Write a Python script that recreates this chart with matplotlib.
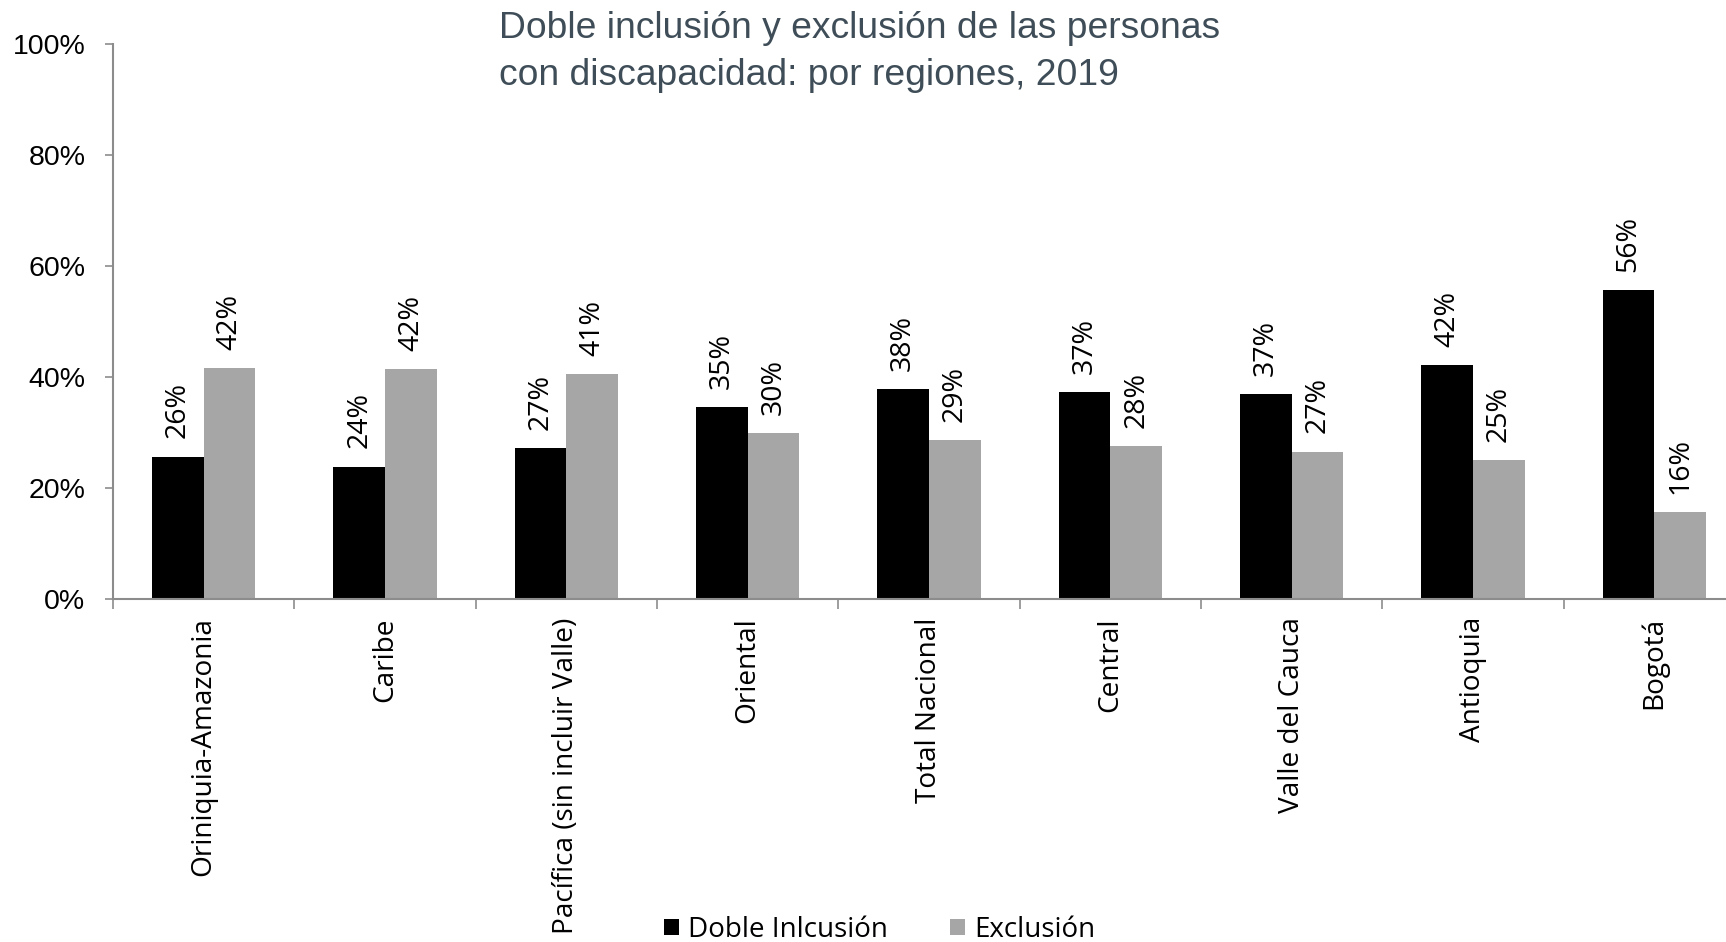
import matplotlib
matplotlib.use("Agg")
import matplotlib.pyplot as plt
import numpy as np
from matplotlib.ticker import FixedLocator, PercentFormatter

categories = ["Oriniquia-Amazonia", "Caribe", "Pacífica (sin incluir Valle)", "Oriental",
              "Total Nacional", "Central", "Valle del Cauca", "Antioquia", "Bogotá"]
doble_inclusion = [25.7, 23.9, 27.3, 34.6, 37.8, 37.4, 36.9, 42.2, 55.7]
exclusion = [41.6, 41.5, 40.6, 30.0, 28.7, 27.6, 26.6, 25.1, 15.7]
yticks = [0, 20, 40, 60, 80, 100]
title = "Doble inclusión y exclusión de las personas\ncon discapacidad: por regiones, 2019"
legend_labels = ["Doble Inlcusión", "Exclusión"]

LABEL_FONT = ["Open Sans", "DejaVu Sans"]
TICK_FONT = ["Liberation Sans Narrow", "Liberation Sans", "DejaVu Sans"]
AX_COLOR = "#8c8c8c"

fig = plt.figure(figsize=(17.26, 9.42), dpi=100)
ax = fig.add_axes([0.0655, 0.364, 0.9455, 0.589])

n = len(categories)
x = np.arange(n)
w = 0.285
b1 = ax.bar(x - w / 2, doble_inclusion, w, color="#000000", label=legend_labels[0])
b2 = ax.bar(x + w / 2, exclusion, w, color="#a6a6a6", label=legend_labels[1])

for bars, vals in ((b1, doble_inclusion), (b2, exclusion)):
    for rect, v in zip(bars, vals):
        ax.annotate(f"{round(v):.0f}%", (rect.get_x() + rect.get_width() / 2, v),
                    xytext=(0, 13), textcoords="offset points", rotation=90,
                    ha="center", va="bottom", fontsize=20.5, family=LABEL_FONT)

ax.set_xlim(-0.5, n - 0.5)
ax.set_ylim(0, 100)
ax.yaxis.set_major_locator(FixedLocator(yticks))
ax.yaxis.set_major_formatter(PercentFormatter(decimals=0))
ax.tick_params(axis="y", direction="out", length=6, width=1.2, color=AX_COLOR,
               pad=14, labelsize=20.5)
for lab in ax.get_yticklabels():
    lab.set_family(TICK_FONT)

ax.set_xticks(np.arange(-0.5, n, 1.0))
ax.set_xticklabels([])
ax.tick_params(axis="x", which="major", direction="out", length=7, width=1.2, color=AX_COLOR)
ax.set_xticks(x, minor=True)
ax.set_xticklabels(categories, minor=True, rotation=90, fontsize=20.2, family=LABEL_FONT)
ax.tick_params(axis="x", which="minor", length=0, pad=13)

for s in ("top", "right"):
    ax.spines[s].set_visible(False)
for s in ("left", "bottom"):
    ax.spines[s].set_color(AX_COLOR)
    ax.spines[s].set_linewidth(1.5)

fig.text(0.289, 0.988, title, ha="left", va="top", fontsize=26.8, color="#3e4d57",
         family=["Liberation Sans", "DejaVu Sans"], linespacing=1.42)

leg = fig.legend(handles=[b1, b2], labels=legend_labels, loc="center",
                 bbox_to_anchor=(0.5096, 0.013), ncol=2, frameon=False,
                 prop={"family": LABEL_FONT, "size": 20}, handlelength=0.55,
                 handleheight=0.55, handletextpad=0.32, columnspacing=2.25,
                 borderpad=0, borderaxespad=0)

fig.savefig("out.png", dpi=100)
